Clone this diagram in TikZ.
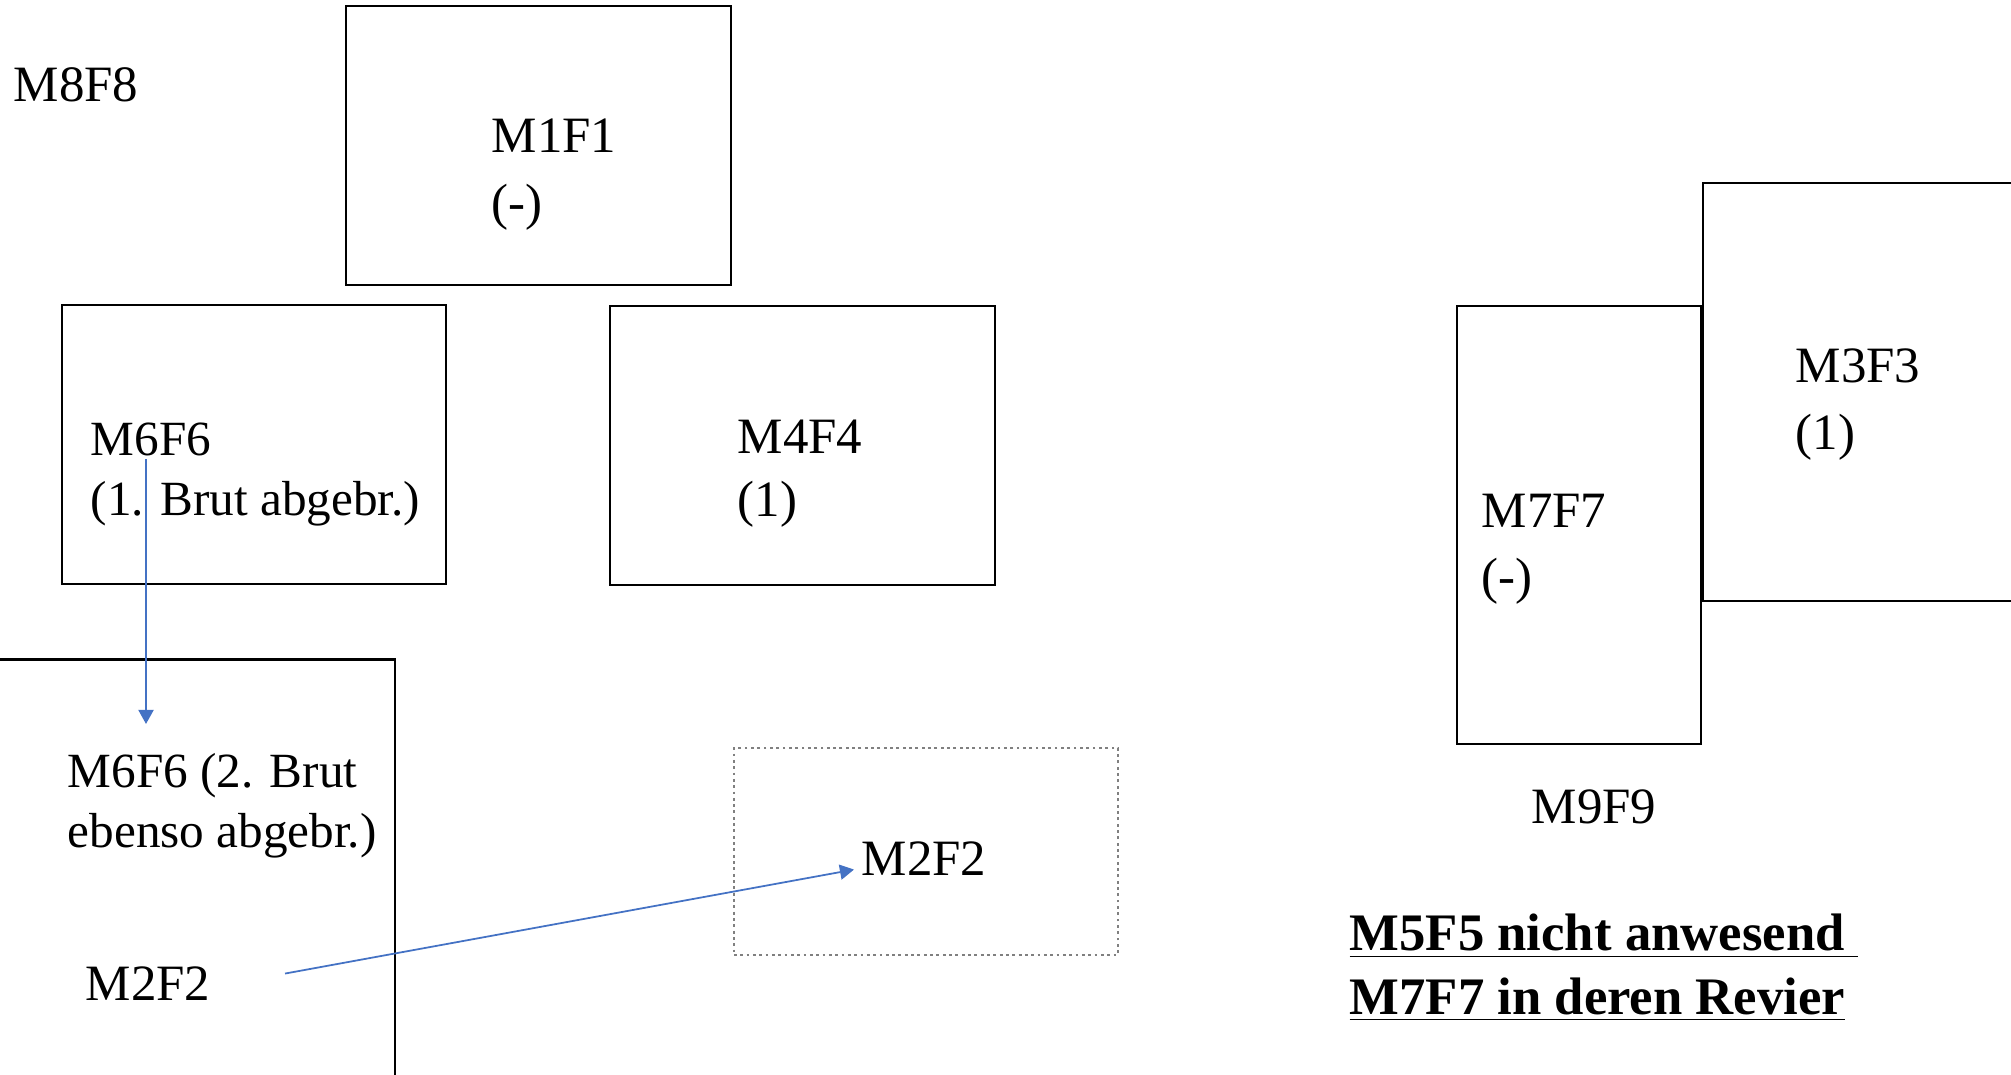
\documentclass[tikz,border=0pt]{standalone}
\usepackage{fontspec}
\setmainfont{Liberation Serif}
\usetikzlibrary{arrows.meta}
\definecolor{pfeilblau}{HTML}{4472C4}

\begin{document}
\begin{tikzpicture}[
  revier/.style={draw, line width=0.8pt, inner sep=0pt},
  schrift/.style={anchor=north west, inner sep=0pt, align=left, font=\fontsize{14.5}{19}\selectfont},
  eng/.style={font=\fontsize{14}{17}\selectfont},
  pfeil/.style={draw=pfeilblau, line width=0.5pt, -{Triangle[length=4pt,width=4.3pt]}}
]

\clip (0,0) rectangle (20.11,-10.75);

\node[revier, minimum width=3.85cm, minimum height=2.79cm] (rev1) at (5.385,-1.455) {};

\node[revier, minimum width=3.84cm, minimum height=2.79cm] (rev6) at (2.54,-4.445) {};

\node[revier, minimum width=3.85cm, minimum height=2.79cm] (rev4) at (8.025,-4.455) {};

\node[revier, minimum width=4.95cm, minimum height=4.9cm] (rev6b) at (1.475,-9.045) {};

\node[revier, draw=gray, densely dotted, minimum width=3.84cm, minimum height=2.07cm] (rev2) at (9.26,-8.515) {};

\node[revier, minimum width=2.44cm, minimum height=4.38cm] (rev7) at (15.79,-5.25) {};

\node[revier, minimum width=3.97cm, minimum height=4.18cm] (rev3) at (19.015,-3.92) {};


\node[schrift] (m8) at (0.13,-0.67) {M8F8};

\node[schrift] (m1) at (4.91,-1.18) {M1F1\\(-)};

\node[schrift, eng] (m6a) at (0.90,-4.22) {M6F6\\(1. Brut abgebr.)};

\node[schrift, font=\fontsize{14.5}{18}\selectfont] (m4) at (7.37,-4.19) {M4F4\\(1)};

\node[schrift, eng] (m6b) at (0.67,-7.53) {M6F6 (2. Brut\\ebenso abgebr.)};

\node[schrift] (m2a) at (0.85,-9.66) {M2F2};

\node[schrift] (m2b) at (8.61,-8.41) {M2F2};

\node[schrift] (m7) at (14.81,-4.93) {M7F7\\(-)};

\node[schrift] (m3) at (17.95,-3.48) {M3F3\\(1)};

\node[schrift] (m9) at (15.31,-7.89) {M9F9};

\node[schrift, font=\fontsize{15}{18}\selectfont\bfseries] (hinweis) at (13.49,-9.135)
  {\underline{M5F5 nicht anwesend\ }\\\underline{M7F7 in deren Revier}};

\coordinate (brut1) at (1.46,-4.59);

\draw[pfeil] (brut1) -- ([yshift=0.29cm]brut1 |- m6b.north);
\draw[pfeil] ([shift={(0.74,0.10)}]m2a.east) -- ([shift={(-0.07,-0.11)}]m2b.west);

\end{tikzpicture}
\end{document}
